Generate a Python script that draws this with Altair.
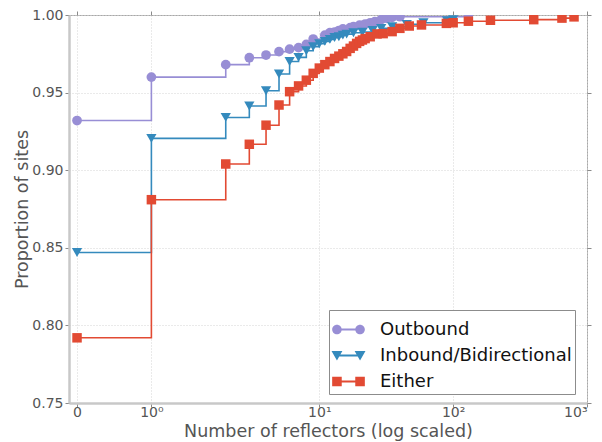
import altair as alt
import pandas as pd
import math

# ---------------- data ----------------
series_names = ["Outbound", "Inbound/Bidirectional", "Either"]
series_colors = ["#988ED5", "#348ABD", "#E24A33"]
marker_shapes = ["circle", "triangle-down", "square"]
marker_sizes = [95, 105, 90]

outbound_x = [0, 1, 2, 3, 4, 5, 6, 7, 8, 9, 11, 12, 13, 14, 15, 17, 18, 20, 22, 24, 26, 29, 32, 35, 40, 130]
outbound_y = [0.932, 0.960, 0.968, 0.9725, 0.9742, 0.9764, 0.978, 0.979, 0.981, 0.9845, 0.987, 0.9886,
              0.989, 0.990, 0.991, 0.9918, 0.9925, 0.9935, 0.9942, 0.995, 0.9957, 0.997, 0.9978,
              0.9985, 0.9989, 1.000]

inbound_x = [0, 1, 2, 3, 4, 5, 6, 7, 8, 9, 10, 11, 12, 13, 14, 15, 16, 18, 21, 25, 29, 35, 45, 60, 90, 100]
inbound_y = [0.847, 0.9205, 0.934, 0.9414, 0.9512, 0.962, 0.970, 0.9727, 0.977, 0.9796, 0.9815, 0.983,
             0.9843, 0.9855, 0.986, 0.987, 0.9877, 0.9886, 0.989, 0.990, 0.9914, 0.9925, 0.994,
             0.995, 0.9963, 0.997]

either_x = [0, 1, 2, 3, 4, 5, 6, 7, 8, 9, 10, 11, 12, 13, 14, 15, 16, 17, 18, 19, 20, 21, 22, 24, 27,
            30, 35, 40, 47, 58, 89, 100, 130, 190, 400, 650, 800]
either_y = [0.792, 0.881, 0.904, 0.9167, 0.929, 0.942, 0.9506, 0.9543, 0.958, 0.9624, 0.9658, 0.968,
            0.970, 0.972, 0.9735, 0.975, 0.9765, 0.9785, 0.980, 0.9817, 0.983, 0.9839, 0.9848, 0.986,
            0.9878, 0.988, 0.9893, 0.9914, 0.9929, 0.9936, 0.9946, 0.995, 0.996, 0.9966, 0.997,
            0.998, 0.9988]

x_tick_raw = [0, 1, 10, 100, 1000]
x_tick_labels = ["0", "10\u2070", "10\u00b9", "10\u00b2", "10\u00b3"]
y_ticks = [0.75, 0.80, 0.85, 0.90, 0.95, 1.00]

# matplotlib-style symlog (linthresh=2, linscale=1, base 10)
LINTHRESH = 2.0
LINSCALE_ADJ = 1.0 / (1.0 - 1.0 / 10.0)


def symlog(v):
    if abs(v) <= LINTHRESH:
        return v * LINSCALE_ADJ
    return LINTHRESH * (LINSCALE_ADJ + math.log10(abs(v) / LINTHRESH))


x_tick_pos = [symlog(v) for v in x_tick_raw]
symlog_expr = (f"datum.x <= {LINTHRESH} ? datum.x * {LINSCALE_ADJ} : "
               f"{LINTHRESH} * ({LINSCALE_ADJ} + log(datum.x / {LINTHRESH}) / LN10)")

label_expr = ""
for p, lab in zip(x_tick_pos, x_tick_labels):
    label_expr += f"abs(datum.value - {p:.5f}) < 0.01 ? '{lab}' : "
label_expr += "''"

rows = []
for name, xs, ys in [(series_names[0], outbound_x, outbound_y),
                     (series_names[1], inbound_x, inbound_y),
                     (series_names[2], either_x, either_y)]:
    for xv, yv in zip(xs, ys):
        rows.append({"series": name, "x": xv, "y": yv})
df = pd.DataFrame(rows)

# ---------------- legend symbols: marker - line - marker (all clockwise) ----------------
def circle_path(cx, r):
    return (f"M {cx - r} 0 A {r} {r} 0 1 1 {cx + r} 0 A {r} {r} 0 1 1 {cx - r} 0 Z")


def tri_path(cx):
    return f"M {cx - 0.33} -0.27 L {cx + 0.33} -0.27 L {cx} 0.31 Z"


def sq_path(cx):
    return f"M {cx - 0.29} -0.29 L {cx + 0.29} -0.29 L {cx + 0.29} 0.29 L {cx - 0.29} 0.29 Z"


line_path = "M -0.7 -0.055 L 0.7 -0.055 L 0.7 0.055 L -0.7 0.055 Z"
legend_paths = [
    circle_path(-0.7, 0.29) + " " + line_path + " " + circle_path(0.7, 0.29),
    tri_path(-0.7) + " " + line_path + " " + tri_path(0.7),
    sq_path(-0.7) + " " + line_path + " " + sq_path(0.7),
]

FONT = "DejaVu Sans"

x_scale = alt.Scale(domain=[-0.12, x_tick_pos[-1]], nice=False, zero=False)
y_scale = alt.Scale(domain=[0.75, 1.0], nice=False, zero=False)

X = alt.X("xt:Q", scale=x_scale,
          axis=alt.Axis(values=x_tick_pos, labelExpr=label_expr,
                        title="Number of reflectors (log scaled)"))
Y = alt.Y("y:Q", scale=y_scale,
          axis=alt.Axis(values=y_ticks, format=".2f", title="Proportion of sites"))
Xn = alt.X("xt:Q", scale=x_scale, axis=None)
Yn = alt.Y("y:Q", scale=y_scale, axis=None)

base = alt.Chart(df).transform_calculate(xt=symlog_expr)

layers = []
first = True
for i, name in enumerate(series_names):
    sub = base.transform_filter(alt.datum.series == name)
    xe, ye = (X, Y) if first else (Xn, Yn)
    first = False
    layers.append(sub.mark_line(interpolate="step-after", color=series_colors[i],
                                strokeWidth=1.6, clip=True)
                  .encode(x=xe, y=ye, order="x:Q"))
    layers.append(sub.mark_point(filled=True, shape=marker_shapes[i], color=series_colors[i],
                                 size=marker_sizes[i], opacity=1, clip=True)
                  .encode(x=Xn, y=Yn))

# legend-only layer: no rows drawn, explicit domains give the three entries
legend_layer = base.transform_filter("false").mark_point(filled=True, opacity=1, size=1089).encode(
    x=Xn, y=Yn,
    color=alt.Color("series:N",
                    scale=alt.Scale(domain=series_names, range=series_colors),
                    legend=alt.Legend(title=None, orient="none", legendX=260, legendY=295,
                                      symbolSize=1089, symbolOpacity=1, symbolStrokeWidth=0,
                                      labelFontSize=18, labelFont=FONT, labelColor="#111111",
                                      labelOffset=15, rowPadding=0, padding=3,
                                      strokeColor="#8c8c8c", fillColor="white",
                                      labelLimit=400)),
    shape=alt.Shape("series:N", scale=alt.Scale(domain=series_names, range=legend_paths)),
)

# tick marks on the top and right frame edges
frame_ticks = base.transform_filter("false").mark_point(opacity=0).encode(
    x=alt.X("xt:Q", scale=x_scale,
            axis=alt.Axis(orient="top", values=x_tick_pos, labels=False, domain=False,
                          grid=False, title=None)),
    y=alt.Y("y:Q", scale=y_scale,
            axis=alt.Axis(orient="right", values=y_ticks, labels=False, domain=False,
                          grid=False, title=None)),
)

chart = alt.layer(*layers, legend_layer, frame_ticks).resolve_axis(
    x="independent", y="independent"
).properties(
    width=518, height=388,
    autosize=alt.AutoSizeParams(type="none"),
    padding={"left": 61, "top": 7, "right": 7, "bottom": 38},
    background="white",
).configure_view(
    stroke="#a8a8a8", strokeWidth=1
).configure_axis(
    labelFont=FONT, titleFont=FONT, labelFontSize=14, titleFontSize=17.5,
    labelColor="#555555", titleColor="#555555", titleFontWeight="normal",
    domainColor="#c8c8c8", domainWidth=2.5,
    tickColor="#8a8a8a", tickSize=4, tickWidth=1,
    gridColor="#d4d4d4", gridDash=[1, 2], gridWidth=1,
).configure_axisBottom(
    labelPadding=-2, titlePadding=3
).configure_axisLeft(
    labelPadding=2, titlePadding=0
)

chart.save("out.html", embed_options={"renderer": "svg", "actions": False})
